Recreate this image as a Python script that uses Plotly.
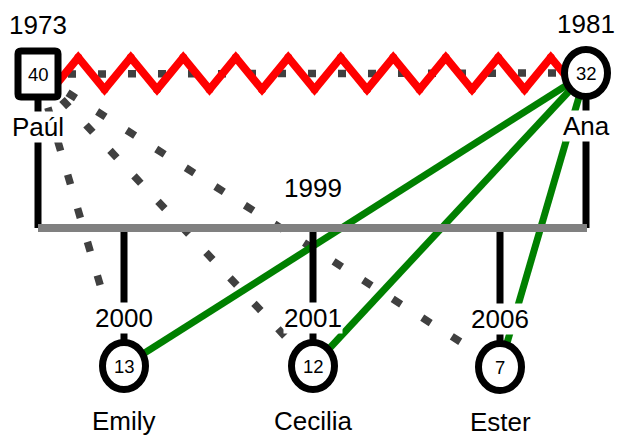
import plotly.graph_objects as go

# ---------------- data ----------------
names = ["Paúl", "Ana", "Emily", "Cecilia", "Ester"]
birth_years = [1973, 1981, 2000, 2001, 2006]
ages = [40, 32, 13, 12, 7]
sexes = ["M", "F", "F", "F", "F"]
union_year = 1999
father, mother = 0, 1
children = [2, 3, 4]
# relationship kinds
father_child_rel = ["distant", "distant", "distant"]
mother_child_rel = ["close", "close", "close"]
partner_rel = ["hostile", "distant"]

# ---------------- layout (pixel-like coordinate system) ----------------
W, H = 617, 437
node_x = [38, 586, 124, 313, 500]
node_y = [74, 73, 366, 366, 367]
bar_y = 228
year_dy = -49     # year label above node
name_dy = 53      # name label below node (parents)
child_name_dy = 55
child_year_dy = -48

BLACK = "#000000"
DARK = "#404040"
GREEN = "#008000"
RED = "#ff0000"
GRAY = "#808080"
FONT = "Liberation Sans, Arial, sans-serif"

fig = go.Figure()

def line(xs, ys, color, width, dash=None, joins=False):
    fig.add_trace(go.Scatter(x=xs, y=ys, mode="lines+markers" if joins else "lines",
                             line=dict(color=color, width=width, dash=dash),
                             marker=dict(size=width, color=color, line=dict(width=0)),
                             hoverinfo="skip", showlegend=False))

# parent -> child relationship lines
for c, rel in zip(children, father_child_rel):
    line([node_x[father], node_x[c]], [node_y[father], node_y[c]], DARK, 7.5, "10px,25px")
for c, rel in zip(children, mother_child_rel):
    line([node_x[mother], node_x[c]], [node_y[mother], node_y[c]], GREEN, 7)

# partner lines: distant (dotted) + hostile (zigzag)
line([node_x[father], node_x[mother]], [node_y[father], node_y[mother]], DARK, 7.5, "8px,22px")
zx0, zx1 = node_x[father] + 14, node_x[mother] - 9
nseg = 20
zy_mid = (node_y[father] + node_y[mother]) / 2
amp = 16
zxs = [zx0 + (zx1 - zx0) * i / nseg for i in range(nseg + 1)]
zys = [zy_mid + amp if i % 2 == 0 else zy_mid - amp for i in range(nseg + 1)]
line(zxs, zys, RED, 8, joins=True)

# family structure lines
for p in (father, mother):
    line([node_x[p], node_x[p]], [node_y[p], bar_y], BLACK, 7)
for c in children:
    line([node_x[c], node_x[c]], [bar_y, node_y[c]], BLACK, 7)
line([node_x[father], node_x[mother] + 1], [bar_y, bar_y], GRAY, 8)

# ---------------- nodes ----------------
shapes = []
sq_w, sq_h, r = 20, 23, 3
ci_w, ci_h = 21.5, 23.5
for i, s in enumerate(sexes):
    cx, cy = node_x[i], node_y[i]
    if s == "M":
        x0, x1, y0, y1 = cx - sq_w, cx + sq_w, cy - sq_h, cy + sq_h
        path = (f"M {x0+r},{y0} L {x1-r},{y0} Q {x1},{y0} {x1},{y0+r} "
                f"L {x1},{y1-r} Q {x1},{y1} {x1-r},{y1} L {x0+r},{y1} "
                f"Q {x0},{y1} {x0},{y1-r} L {x0},{y0+r} Q {x0},{y0} {x0+r},{y0} Z")
        shapes.append(dict(type="path", path=path, xref="x", yref="y",
                           line=dict(color=BLACK, width=7), fillcolor="white", layer="above"))
    else:
        shapes.append(dict(type="circle", xref="x", yref="y",
                           x0=cx - ci_w, x1=cx + ci_w, y0=cy - ci_h, y1=cy + ci_h,
                           line=dict(color=BLACK, width=7), fillcolor="white", layer="above"))

annotations = []
def label(x, y, text, size, bg=True):
    annotations.append(dict(x=x, y=y, xref="x", yref="y", text=text, showarrow=False,
                            font=dict(family=FONT, size=size, color="black"),
                            bgcolor="white" if bg else None, borderpad=0,
                            xanchor="center", yanchor="middle"))

for i in range(len(names)):
    label(node_x[i], node_y[i], str(ages[i]), 18.5, bg=False)
for p in (father, mother):
    label(node_x[p], node_y[p] + year_dy, str(birth_years[p]), 26)
    label(node_x[p], node_y[p] + name_dy, names[p], 26)
for c in children:
    label(node_x[c], node_y[c] + child_year_dy, str(birth_years[c]), 26)
    label(node_x[c], node_y[c] + child_name_dy, names[c], 26)
label((node_x[father] + node_x[mother]) / 2 + 1, bar_y - 40, str(union_year), 26)

fig.update_layout(
    width=W, height=H, margin=dict(l=0, r=0, t=0, b=0),
    paper_bgcolor="white", plot_bgcolor="white",
    xaxis=dict(range=[0, W], visible=False, fixedrange=True),
    yaxis=dict(range=[H, 0], visible=False, fixedrange=True),
    shapes=shapes, annotations=annotations,
)
fig.write_html("out.html", config={"displayModeBar": False},
               post_script="document.body.style.margin='0';document.body.style.overflow='hidden';")
